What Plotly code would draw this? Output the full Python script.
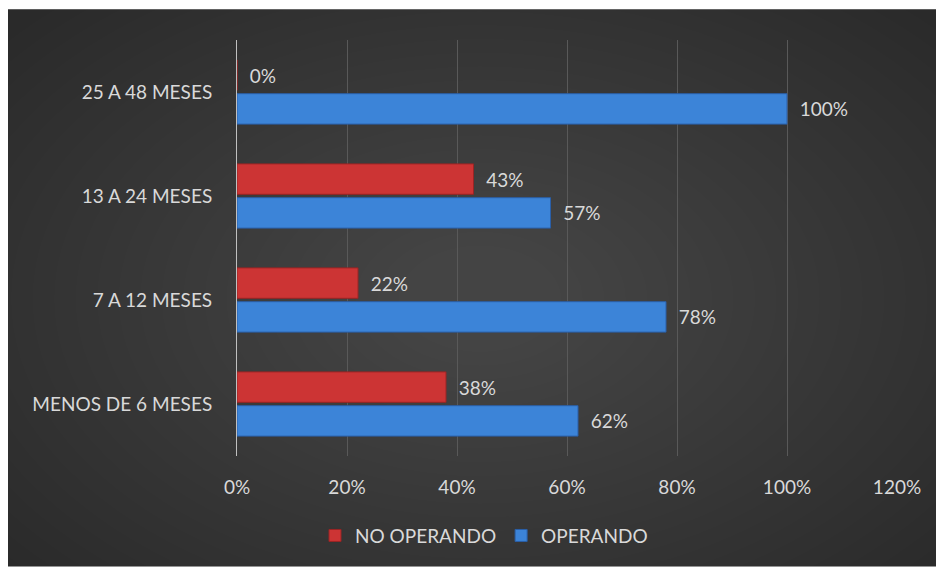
import plotly.graph_objects as go

categories = ["MENOS DE 6 MESES", "7 A 12 MESES", "13 A 24 MESES", "25 A 48 MESES"]
operando = [0.62, 0.78, 0.57, 1.00]
no_operando = [0.38, 0.22, 0.43, 0.00]
x_ticks = [0, 0.2, 0.4, 0.6, 0.8, 1.0, 1.2]
x_ticklabels = ["0%", "20%", "40%", "60%", "80%", "100%", "120%"]

W, H = 936, 567
L, R, T, B = 237, 897, 40, 458  # plot area pixel bounds

def px(x):
    return (x - L) / (R - L)

def py(y):
    return (B - y) / (B - T)

FONT = "Lato"
TXT = "#d9d9d9"
FS = 19

fig = go.Figure()
fig.add_trace(go.Bar(
    y=categories, x=operando, orientation="h", name="OPERANDO",
    marker=dict(color="#3c84d8", line=dict(color="#2a5fa8", width=1)),
    text=operando, texttemplate="\u00a0\u00a0%{x:.0%}", textposition="outside",
    textfont=dict(color=TXT, size=FS, family=FONT), cliponaxis=False,
))
fig.add_trace(go.Bar(
    y=categories, x=no_operando, orientation="h", name="NO OPERANDO",
    marker=dict(color="#cc3434", line=dict(color="#9a2424", width=1)),
    text=no_operando, texttemplate="\u00a0\u00a0%{x:.0%}", textposition="outside",
    textfont=dict(color=TXT, size=FS, family=FONT), cliponaxis=False,
))

shapes = [dict(type="rect", xref="paper", yref="paper", layer="below",
               x0=px(8), x1=px(W + 2), y0=py(H + 2), y1=py(9),
               fillcolor="#2a2a2a", line=dict(width=0))]
# soft radial lightening towards the centre of the chart
cx, cy = 480, 300
n = 26
for i in range(n):
    f = 1 - i / n
    rx, ry = 60 + 560 * f, 40 + 360 * f
    shapes.append(dict(type="circle", xref="paper", yref="paper", layer="below",
                       x0=px(cx - rx), x1=px(cx + rx), y0=py(cy + ry), y1=py(cy - ry),
                       fillcolor="rgba(255,255,255,0.0075)", line=dict(width=0)))

fig.update_layout(
    width=W, height=H,
    margin=dict(l=L, r=W - R, t=T, b=H - B, pad=0),
    paper_bgcolor="white", plot_bgcolor="rgba(0,0,0,0)",
    barmode="group", bargap=0.35, bargroupgap=0.1,
    font=dict(family=FONT, color=TXT, size=FS),
    shapes=shapes,
    showlegend=True,
    legend=dict(orientation="h", traceorder="reversed", x=px(484), y=py(538),
                xanchor="center", yanchor="middle", font=dict(size=FS, color=TXT),
                bgcolor="rgba(0,0,0,0)", itemwidth=30),
    xaxis=dict(range=[0, 1.2], tickvals=x_ticks, ticktext=x_ticklabels,
               showgrid=True, gridcolor="#595959", gridwidth=1,
               zeroline=False, showline=False, ticks="",
               ticklabelstandoff=18, tickfont=dict(size=FS, color=TXT, family=FONT)),
    yaxis=dict(categoryorder="array", categoryarray=categories,
               showgrid=False, zeroline=False, showline=True, linecolor="#c0c0c0",
               linewidth=1, ticks="", ticklabelstandoff=20,
               tickfont=dict(size=FS, color=TXT, family=FONT)),
)

fig.write_html("out.html")
